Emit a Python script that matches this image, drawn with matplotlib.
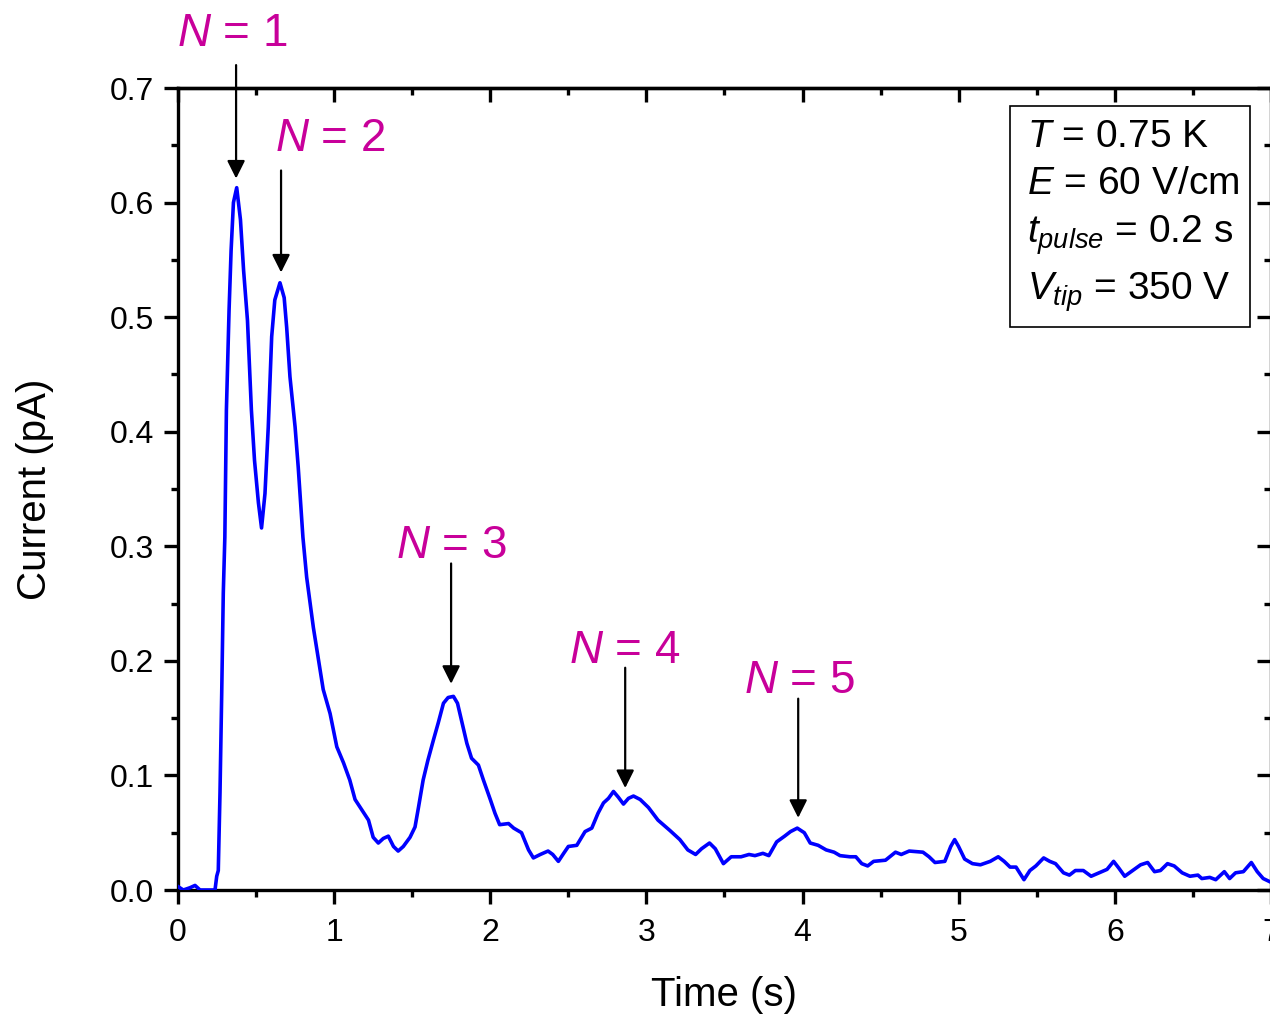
import matplotlib
matplotlib.use('Agg')
import matplotlib.pyplot as plt
from matplotlib.patches import Rectangle

plt.rcParams['font.family'] = ['Liberation Sans', 'DejaVu Sans']
plt.rcParams['mathtext.fontset'] = 'custom'
plt.rcParams['mathtext.rm'] = 'Liberation Sans'
plt.rcParams['mathtext.it'] = 'Liberation Sans:italic'
plt.rcParams['mathtext.bf'] = 'Liberation Sans:bold'

# Measured current trace after the pulse
time_s = [
    0.0, 0.034, 0.077, 0.109, 0.141, 0.226, 0.237, 0.248, 0.258, 0.269,
    0.28, 0.29, 0.30, 0.31, 0.327, 0.34, 0.355, 0.376, 0.40, 0.42,
    0.445, 0.455, 0.47, 0.49, 0.515, 0.535, 0.557, 0.578, 0.60, 0.62,
    0.653, 0.68, 0.696, 0.717, 0.75, 0.77, 0.80, 0.824, 0.867, 0.90,
    0.93, 0.974, 1.017, 1.06, 1.10, 1.134, 1.177, 1.22, 1.25, 1.283,
    1.315, 1.347, 1.38, 1.41, 1.443, 1.486, 1.518, 1.54, 1.57, 1.60,
    1.636, 1.667, 1.70, 1.73, 1.764, 1.79, 1.816, 1.85, 1.88, 1.924,
    1.956, 2.0, 2.03, 2.06, 2.117, 2.15, 2.20, 2.245, 2.276, 2.32,
    2.37, 2.40, 2.436, 2.47, 2.50, 2.554, 2.607, 2.65, 2.69, 2.725,
    2.757, 2.789, 2.82, 2.853, 2.885, 2.917, 2.96, 3.013, 3.074, 3.15,
    3.214, 3.265, 3.315, 3.353, 3.404, 3.441, 3.493, 3.543, 3.606, 3.657,
    3.695, 3.746, 3.784, 3.834, 3.885, 3.923, 3.966, 4.011, 4.049, 4.10,
    4.151, 4.202, 4.24, 4.303, 4.341, 4.379, 4.417, 4.455, 4.531, 4.595,
    4.632, 4.683, 4.771, 4.81, 4.848, 4.911, 4.949, 4.974, 4.999, 5.038,
    5.088, 5.139, 5.202, 5.253, 5.291, 5.329, 5.367, 5.418, 5.456, 5.494,
    5.544, 5.583, 5.62, 5.671, 5.709, 5.747, 5.798, 5.848, 5.899, 5.95,
    5.992, 6.026, 6.063, 6.114, 6.165, 6.21, 6.254, 6.292, 6.337, 6.38,
    6.431, 6.481, 6.532, 6.557, 6.608, 6.646, 6.701, 6.735, 6.773, 6.823,
    6.874, 6.912, 6.95, 6.996,
]
current_pa = [
    0.003, 0.0, 0.002, 0.004, 0.0, 0.0, 0.0, 0.012, 0.017, 0.085,
    0.172, 0.259, 0.308, 0.419, 0.506, 0.558, 0.600, 0.613, 0.585, 0.541,
    0.497, 0.465, 0.419, 0.375, 0.338, 0.316, 0.346, 0.404, 0.483, 0.515,
    0.530, 0.517, 0.491, 0.448, 0.404, 0.369, 0.308, 0.273, 0.229, 0.201,
    0.175, 0.154, 0.125, 0.111, 0.096, 0.079, 0.070, 0.061, 0.046, 0.041,
    0.045, 0.047, 0.038, 0.034, 0.038, 0.046, 0.055, 0.072, 0.096, 0.113,
    0.131, 0.146, 0.163, 0.168, 0.169, 0.163, 0.148, 0.128, 0.115, 0.109,
    0.096, 0.079, 0.067, 0.057, 0.058, 0.054, 0.050, 0.035, 0.028, 0.031,
    0.034, 0.031, 0.025, 0.032, 0.038, 0.039, 0.051, 0.054, 0.067, 0.076,
    0.080, 0.086, 0.081, 0.075, 0.080, 0.082, 0.079, 0.072, 0.061, 0.052,
    0.044, 0.035, 0.031, 0.036, 0.041, 0.036, 0.023, 0.029, 0.029, 0.031,
    0.030, 0.032, 0.030, 0.042, 0.047, 0.051, 0.054, 0.050, 0.041, 0.039,
    0.035, 0.033, 0.030, 0.029, 0.029, 0.023, 0.021, 0.025, 0.026, 0.033,
    0.031, 0.034, 0.033, 0.029, 0.024, 0.025, 0.038, 0.044, 0.038, 0.027,
    0.023, 0.022, 0.025, 0.029, 0.025, 0.020, 0.020, 0.009, 0.017, 0.021,
    0.028, 0.025, 0.023, 0.015, 0.013, 0.017, 0.017, 0.012, 0.015, 0.018,
    0.025, 0.019, 0.012, 0.017, 0.022, 0.024, 0.016, 0.017, 0.023, 0.021,
    0.015, 0.012, 0.013, 0.010, 0.011, 0.009, 0.016, 0.010, 0.015, 0.016,
    0.024, 0.016, 0.010, 0.007,
]

# Peak markers: label, arrow x, arrow tail, arrow tip
peak_labels = ['1', '2', '3', '4', '5']
peak_times = [0.372, 0.66, 1.749, 2.864, 3.972]
arrow_tails = [0.72, 0.628, 0.285, 0.194, 0.167]
arrow_tips = [0.621, 0.539, 0.180, 0.089, 0.063]
label_x = [0.346, 0.974, 1.749, 2.864, 3.978]
label_y = [0.737, 0.645, 0.290, 0.198, 0.172]

info_lines = ['$T$ = 0.75 K', '$E$ = 60 V/cm', '$t_{pulse}$ = 0.2 s', '$V_{tip}$ = 350 V']

W, H = 1270, 1016
fig = plt.figure(figsize=(12.7, 10.16), dpi=100)
ax = fig.add_axes([178 / W, 1 - 890 / H, 1093 / W, 802 / H])

ax.plot(time_s, current_pa, color='#0000FF', lw=2.6, zorder=3)

ax.set_xlim(0, 7)
ax.set_ylim(0, 0.7)
ax.set_xticks(range(0, 8))
ax.set_xticks([i + 0.5 for i in range(7)], minor=True)
ax.set_yticks([i / 10 for i in range(8)])
ax.set_yticks([i / 10 + 0.05 for i in range(7)], minor=True)
ax.set_yticklabels(['%.1f' % (i / 10) for i in range(8)])

lw = 2.4
for s in ax.spines.values():
    s.set_linewidth(lw)
ax.tick_params(which='both', direction='out', width=lw, labelsize=23)
ax.tick_params(axis='x', pad=10)
ax.tick_params(axis='y', pad=7)
ax.tick_params(which='major', length=10)
ax.tick_params(which='minor', length=5)

# Inward ticks on top and right
top = ax.secondary_xaxis('top')
top.set_xticks(range(0, 8))
top.set_xticks([i + 0.5 for i in range(7)], minor=True)
right = ax.secondary_yaxis('right')
right.set_yticks([i / 10 for i in range(8)])
right.set_yticks([i / 10 + 0.05 for i in range(7)], minor=True)
for sec in (top, right):
    sec.tick_params(which='both', direction='in', width=lw, labelsize=0,
                    labeltop=False, labelright=False)
    sec.tick_params(which='major', length=10)
    sec.tick_params(which='minor', length=5)
    for s in sec.spines.values():
        s.set_linewidth(lw)

ax.set_xlabel('Time (s)', fontsize=29, labelpad=20)
ax.set_ylabel('Current (pA)', fontsize=29, labelpad=40)

magenta = '#C8009A'
for lab, t, y0, y1, lx, ly in zip(peak_labels, peak_times, arrow_tails, arrow_tips, label_x, label_y):
    ax.annotate('', xy=(t, y1), xytext=(t, y0), annotation_clip=False,
                arrowprops=dict(arrowstyle='-|>', color='black', lw=1.6,
                                mutation_scale=27, shrinkA=0, shrinkB=0))
    ax.text(lx, ly, '$N$ = ' + lab, color=magenta, fontsize=33,
            ha='center', va='baseline', clip_on=False)

# Parameter box
fig.add_artist(Rectangle((1010 / W, 1 - 327 / H), 240 / W, 221 / H,
                         transform=fig.transFigure, fill=True, facecolor='white',
                         edgecolor='black', lw=1.2, zorder=5))
for line, yb in zip(info_lines, [147, 194, 243, 300]):
    fig.text(1027 / W, 1 - yb / H, line, fontsize=28, ha='left', va='baseline', zorder=6)

fig.savefig('out.png', dpi=100)
